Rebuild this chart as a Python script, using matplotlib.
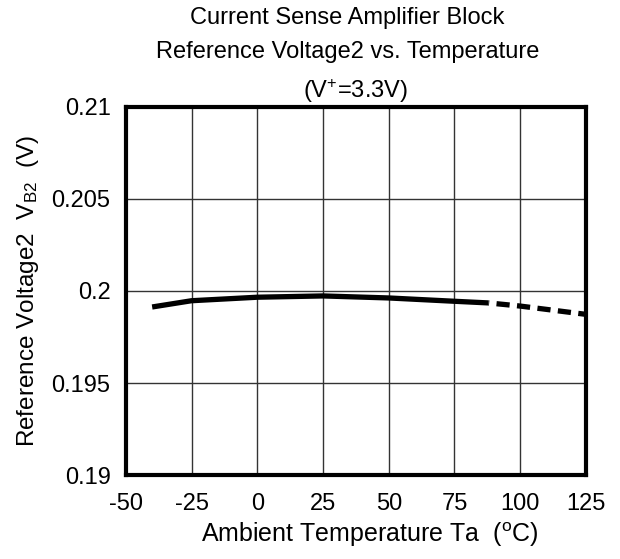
import matplotlib
matplotlib.use('Agg')
import matplotlib.pyplot as plt

plt.rcParams['font.family'] = ['Liberation Sans', 'DejaVu Sans']
plt.rcParams['mathtext.fontset'] = 'custom'
plt.rcParams['mathtext.rm'] = 'Liberation Sans'
plt.rcParams['mathtext.it'] = 'Liberation Sans'

# measured part (solid)
temp_solid = [-40, -25, 0, 25, 50, 75, 88]
vb2_solid = [0.19913, 0.19947, 0.19966, 0.19973, 0.19962, 0.19944, 0.19935]
# extrapolated part (dashed)
temp_dash = [88, 100, 125]
vb2_dash = [0.19935, 0.19918, 0.19873]

x_ticks = [-50, -25, 0, 25, 50, 75, 100, 125]
y_ticks = [0.19, 0.195, 0.2, 0.205, 0.21]
y_labels = ['0.19', '0.195', '0.2', '0.205', '0.21']

fs = 17

fig = plt.figure(figsize=(6.2, 5.59), dpi=100)
ax = fig.add_axes([0.203, 0.150, 0.742, 0.659])

ax.plot(temp_solid, vb2_solid, color='black', linewidth=3.8, solid_capstyle='butt')
ax.plot(temp_dash, vb2_dash, color='black', linewidth=3.8,
        linestyle=(2.4, (2.5, 1.4)), dash_capstyle='butt')

ax.set_xlim(-50, 125)
ax.set_ylim(0.19, 0.21)
ax.set_xticks(x_ticks)
ax.set_xticklabels([str(t) for t in x_ticks])
ax.set_yticks(y_ticks)
ax.set_yticklabels(y_labels)
ax.grid(True, color='#333333', linewidth=1.0)
ax.tick_params(axis='both', which='both', length=0, labelsize=fs)
ax.tick_params(axis='y', pad=11)
ax.tick_params(axis='x', pad=13)
for s in ax.spines.values():
    s.set_linewidth(3)

ax.set_xlabel(r'Ambient Temperature Ta  ($^{\mathrm{o}}$C)', fontsize=18)
ax.xaxis.set_label_coords(0.53, -0.122)
ax.set_ylabel(r'Reference Voltage2  V$_{\mathrm{B2}}$  (V)', fontsize=17.5)
ax.yaxis.set_label_coords(-0.185, 0.5)

fig.text(0.56, 0.968, 'Current Sense Amplifier Block', ha='center', va='center', fontsize=fs)
fig.text(0.56, 0.907, 'Reference Voltage2 vs. Temperature', ha='center', va='center', fontsize=fs)
fig.text(0.573, 0.837, r'(V$^{+}$=3.3V)', ha='center', va='center', fontsize=fs)

fig.savefig('out.png', dpi=100)
